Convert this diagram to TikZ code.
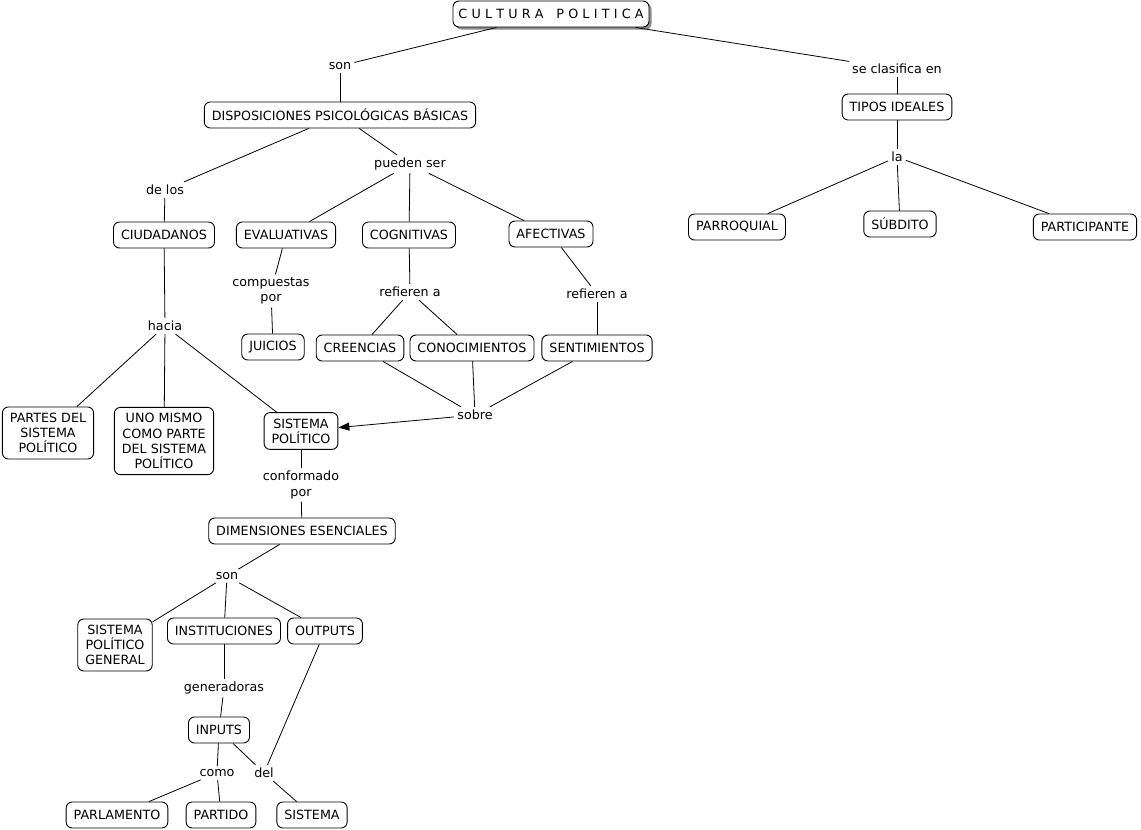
\documentclass[tikz,border=0pt]{standalone}
\usepackage{fontspec}
\setmainfont{DejaVu Sans}
\usetikzlibrary{arrows.meta,shadows}
\begin{document}
\begin{tikzpicture}[x=1pt,y=-1pt,
  every node/.style={font=\fontsize{12.7}{15.2}\selectfont, align=center},
  cbox/.style={draw=black, line width=0.9pt, rounded corners=6pt, fill=white, inner xsep=7.5pt, inner ysep=6pt, minimum height=26pt},
  lbl/.style={inner sep=3pt, fill=white},
  conn/.style={draw=black, line width=0.8pt},
  arr/.style={conn, -{Triangle[length=11pt,width=8pt]}}]
\useasboundingbox (0,0) rectangle (1141,830);
\fill[white] (0,0) rectangle (1141,830);

% nodes
\node[cbox, inner xsep=5.5pt, drop shadow={shadow xshift=2.5pt, shadow yshift=-2.5pt, fill=black!45, opacity=1}] (cp) at (551,14) {C\,\,U\,\,L\,\,T\,\,U\,\,R\,\,A\quad P\,\,O\,\,L\,\,I\,\,T\,\,I\,\,C\,\,A};
\node[cbox] (dpb) at (340,115) {DISPOSICIONES PSICOLÓGICAS BÁSICAS};
\node[cbox] (ti) at (897,107) {TIPOS IDEALES};
\node[cbox] (parr) at (737,227) {PARROQUIAL};
\node[cbox] (sub) at (900,224) {SÚBDITO};
\node[cbox] (part) at (1085,227) {PARTICIPANTE};
\node[cbox] (ciu) at (164,235) {CIUDADANOS};
\node[cbox] (eva) at (286,235) {EVALUATIVAS};
\node[cbox] (cog) at (409,235) {COGNITIVAS};
\node[cbox] (afe) at (551,234) {AFECTIVAS};
\node[cbox] (jui) at (273,347) {JUICIOS};
\node[cbox] (cre) at (360,348) {CREENCIAS};
\node[cbox] (con) at (472,348) {CONOCIMIENTOS};
\node[cbox] (sen) at (597,348) {SENTIMIENTOS};
\node[cbox] (psp) at (48,433) {PARTES DEL\\SISTEMA\\POLÍTICO};
\node[cbox] (uno) at (164,441) {UNO MISMO\\COMO PARTE\\DEL SISTEMA\\POLÍTICO};
\node[cbox] (sp) at (301,431) {SISTEMA\\POLÍTICO};
\node[cbox] (dim) at (302,531) {DIMENSIONES ESENCIALES};
\node[cbox] (spg) at (115,645) {SISTEMA\\POLÍTICO\\GENERAL};
\node[cbox] (ins) at (224,631) {INSTITUCIONES};
\node[cbox] (out) at (325,631) {OUTPUTS};
\node[cbox] (inp) at (219,730) {INPUTS};
\node[cbox] (parl) at (117,815) {PARLAMENTO};
\node[cbox] (pti) at (221,815) {PARTIDO};
\node[cbox] (sis) at (312,815) {SISTEMA};

% labels
\node[lbl] (son) at (340,66) {son};
\node[lbl] (sce) at (897,69) {se clasifica en};
\node[lbl] (la) at (897,157) {la};
\node[lbl] (delos) at (165,190) {de los};
\node[lbl] (ps) at (410,164) {pueden ser};
\node[lbl] (cpor) at (271,291) {compuestas\\por};
\node[lbl] (ref1) at (410,292) {refieren a};
\node[lbl] (ref2) at (597,294) {refieren a};
\node[lbl] (hac) at (165,326) {hacia};
\node[lbl] (sob) at (475,415) {sobre};
\node[lbl] (cfp) at (301,485) {conformado\\por};
\node[lbl] (son2) at (227,576) {son};
\node[lbl] (gen) at (224,688) {generadoras};
\node[lbl] (como) at (217,773) {como};
\node[lbl] (del) at (264,773) {del};

% connectors
\draw[conn] (cp) -- (son);
\draw[conn] (son) -- (dpb);
\draw[conn] (cp) -- (sce);
\draw[conn] (sce) -- (ti);
\draw[conn] (ti) -- (la);
\draw[conn] (la) -- (parr);
\draw[conn] (la) -- (sub);
\draw[conn] (la) -- (part);
\draw[conn] (dpb) -- (delos);
\draw[conn] (delos) -- (ciu);
\draw[conn] (dpb) -- (ps);
\draw[conn] (ps) -- (eva);
\draw[conn] (ps) -- (cog);
\draw[conn] (ps) -- (afe);
\draw[conn] (eva) -- (cpor);
\draw[conn] (cpor) -- (jui);
\draw[conn] (cog) -- (ref1);
\draw[conn] (ref1) -- (cre);
\draw[conn] (ref1) -- (con);
\draw[conn] (afe) -- (ref2);
\draw[conn] (ref2) -- (sen);
\draw[conn] (ciu) -- (hac);
\draw[conn] (hac) -- (psp);
\draw[conn] (hac) -- (uno);
\draw[conn] (hac) -- (sp);
\draw[conn] (cre) -- (sob);
\draw[conn] (con) -- (sob);
\draw[conn] (sen) -- (sob);
\draw[arr] (sob) -- (sp);
\draw[conn] (sp) -- (cfp);
\draw[conn] (cfp) -- (dim);
\draw[conn] (dim) -- (son2);
\draw[conn] (son2) -- (spg);
\draw[conn] (son2) -- (ins);
\draw[conn] (son2) -- (out);
\draw[conn] (ins) -- (gen);
\draw[conn] (gen) -- (inp);
\draw[conn] (inp) -- (como);
\draw[conn] (inp) -- (del);
\draw[conn] (como) -- (parl);
\draw[conn] (como) -- (pti);
\draw[conn] (del) -- (sis);
\draw[conn] (out) -- (del);
\end{tikzpicture}
\end{document}
